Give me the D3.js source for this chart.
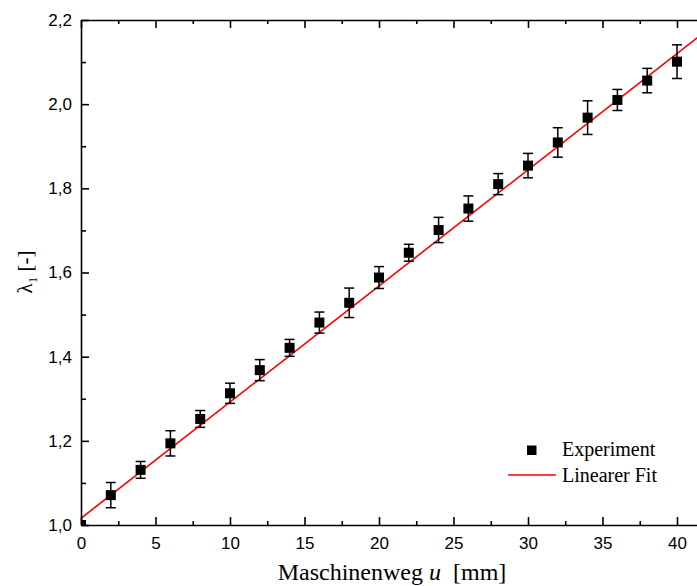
<!DOCTYPE html>
<html>
<head>
<meta charset="utf-8">
<script src="https://cdn.jsdelivr.net/npm/d3@7"></script>
<style>
  body { margin: 0; background: #fff; }
  svg { display: block; }
</style>
</head>
<body>
<svg id="chart" width="697" height="586"></svg>
<script>
// Messwerte: Maschinenweg u [mm] und Streckgrad lambda_1 mit Fehler
const weg = [0, 2, 4, 6, 8, 10, 12, 14, 16, 18, 20, 22, 24, 26, 28, 30, 32, 34, 36, 38, 40]
const lambda = [1.000, 1.071, 1.131, 1.194, 1.252, 1.313, 1.368, 1.421, 1.481, 1.528, 1.588,
  1.647, 1.701, 1.752, 1.810, 1.854, 1.909, 1.968, 2.010, 2.056, 2.101]
const fehler = [0, 0.030, 0.020, 0.030, 0.020, 0.024, 0.025, 0.020, 0.025, 0.035, 0.026,
  0.020, 0.030, 0.030, 0.025, 0.029, 0.035, 0.040, 0.025, 0.029, 0.040]

// linearer Fit lambda = a + b*u
const fitA = 1.016
const fitB = 0.0276

const xTicks = [0, 5, 10, 15, 20, 25, 30, 35, 40]
const xMinor = [2.5, 7.5, 12.5, 17.5, 22.5, 27.5, 32.5, 37.5]
const yTicks = [1.0, 1.2, 1.4, 1.6, 1.8, 2.0, 2.2]
const yMinor = [1.1, 1.3, 1.5, 1.7, 1.9, 2.1]
const legendLabels = ['Experiment', 'Linearer Fit']

const svg = d3.select('#chart')
const mLeft = 81, mTop = 20, mBottom = 525
const pxPerMm = 14.9

const x = d3.scaleLinear().domain([0, 42]).range([mLeft, mLeft + 42 * pxPerMm])
const y = d3.scaleLinear().domain([1.0, 2.2]).range([mBottom, mTop])

const comma = d3.formatLocale({ decimal: ',', thousands: '.', grouping: [3], currency: ['', ''] })
const fmtY = comma.format('.1f')

svg.append('defs').append('clipPath').attr('id', 'plotclip')
  .append('rect')
  .attr('x', mLeft).attr('y', mTop)
  .attr('width', x(42) - mLeft).attr('height', mBottom - mTop)

// Fit-Gerade
const fitData = [0, 42].map((u) => [u, fitA + fitB * u])
svg.append('path')
  .datum(fitData)
  .attr('clip-path', 'url(#plotclip)')
  .attr('fill', 'none')
  .attr('stroke', '#ff0000')
  .attr('stroke-width', 1.6)
  .attr('d', d3.line().x((d) => x(d[0])).y((d) => y(d[1])))

// Fehlerbalken
const pts = weg.map((u, i) => ({ u: u, v: lambda[i], e: fehler[i] }))
const bars = svg.append('g')
  .attr('clip-path', 'url(#plotclip)')
  .attr('stroke', '#000')
  .attr('stroke-width', 1.5)
  .selectAll('g')
  .data(pts.filter((d) => d.e > 0))
  .enter().append('g')

bars.append('line')
  .attr('x1', (d) => x(d.u)).attr('x2', (d) => x(d.u))
  .attr('y1', (d) => y(d.v + d.e)).attr('y2', (d) => y(d.v - d.e))
bars.append('line')
  .attr('x1', (d) => x(d.u) - 5).attr('x2', (d) => x(d.u) + 5)
  .attr('y1', (d) => y(d.v + d.e)).attr('y2', (d) => y(d.v + d.e))
bars.append('line')
  .attr('x1', (d) => x(d.u) - 5).attr('x2', (d) => x(d.u) + 5)
  .attr('y1', (d) => y(d.v - d.e)).attr('y2', (d) => y(d.v - d.e))

// Messpunkte
const sq = 10
svg.append('g')
  .attr('clip-path', 'url(#plotclip)')
  .selectAll('rect')
  .data(pts)
  .enter().append('rect')
  .attr('x', (d) => x(d.u) - sq / 2)
  .attr('y', (d) => y(d.v) - sq / 2)
  .attr('width', sq).attr('height', sq)
  .attr('fill', '#000')

// Achsen
function styleAxis(g) {
  g.selectAll('path, line').attr('stroke', '#000').attr('stroke-width', 1.6)
  g.selectAll('text')
    .attr('fill', '#000')
    .style('font-family', '"Liberation Sans", Arial, sans-serif')
    .style('font-size', '17px')
}

svg.append('g')
  .attr('transform', `translate(0,${mBottom})`)
  .call(d3.axisBottom(x).tickValues(xTicks).tickSizeInner(-8).tickSizeOuter(0).tickPadding(12))
  .call(styleAxis)
svg.append('g')
  .attr('transform', `translate(0,${mBottom})`)
  .call(d3.axisBottom(x).tickValues(xMinor).tickSizeInner(-4).tickSizeOuter(0).tickFormat(''))
  .call(styleAxis)
  .call((g) => g.select('.domain').remove())

svg.append('g')
  .attr('transform', `translate(0,${mTop})`)
  .call(d3.axisTop(x).tickValues(xTicks).tickSizeInner(-8).tickSizeOuter(0).tickFormat(''))
  .call(styleAxis)
svg.append('g')
  .attr('transform', `translate(0,${mTop})`)
  .call(d3.axisTop(x).tickValues(xMinor).tickSizeInner(-4).tickSizeOuter(0).tickFormat(''))
  .call(styleAxis)
  .call((g) => g.select('.domain').remove())

svg.append('g')
  .attr('transform', `translate(${mLeft},0)`)
  .call(d3.axisLeft(y).tickValues(yTicks).tickSizeInner(-8).tickSizeOuter(0).tickPadding(9).tickFormat(fmtY))
  .call(styleAxis)
svg.append('g')
  .attr('transform', `translate(${mLeft},0)`)
  .call(d3.axisLeft(y).tickValues(yMinor).tickSizeInner(-5).tickSizeOuter(0).tickFormat(''))
  .call(styleAxis)
  .call((g) => g.select('.domain').remove())

// Achsenbeschriftungen
const serif = '"Liberation Serif", "Times New Roman", serif'
const xLabel = svg.append('text')
  .attr('x', 392).attr('y', 580)
  .attr('text-anchor', 'middle')
  .style('font-family', serif)
  .style('font-size', '24px')
xLabel.append('tspan').text('Maschinenweg ')
xLabel.append('tspan').style('font-style', 'italic').text('u')
xLabel.append('tspan').attr('dx', 6).text(' [mm]')

const yLabel = svg.append('text')
  .attr('transform', 'translate(32,272) rotate(-90)')
  .attr('text-anchor', 'middle')
  .style('font-family', serif)
  .style('font-size', '21px')
yLabel.append('tspan').text('λ')
yLabel.append('tspan').attr('dy', 5).style('font-size', '13px').text('1')
yLabel.append('tspan').attr('dy', -5).text(' [-]')

// Legende
const legend = svg.append('g')
legend.append('rect')
  .attr('x', 527).attr('y', 445.5).attr('width', 9.5).attr('height', 9.5)
  .attr('fill', '#000')
legend.append('line')
  .attr('x1', 508).attr('x2', 556).attr('y1', 475).attr('y2', 475)
  .attr('stroke', '#ff0000').attr('stroke-width', 1.6)
legend.selectAll('text.lbl')
  .data(legendLabels)
  .enter().append('text')
  .attr('class', 'lbl')
  .attr('x', 562)
  .attr('y', (d, i) => 456 + i * 26)
  .style('font-family', serif)
  .style('font-size', '20px')
  .text((d) => d)
</script>
</body>
</html>
